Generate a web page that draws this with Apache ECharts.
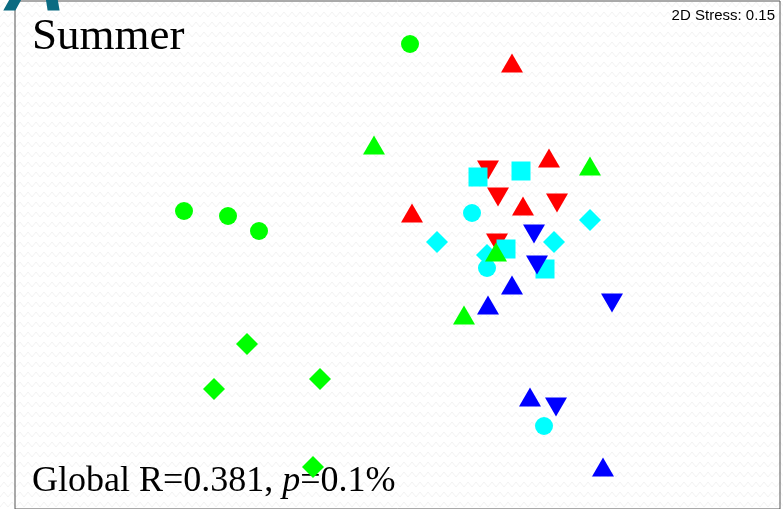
<!DOCTYPE html>
<html>
<head>
<meta charset="utf-8">
<script src="https://cdn.jsdelivr.net/npm/echarts@6/dist/echarts.min.js"></script>
<style>
  html, body { margin: 0; padding: 0; background: #fff; }
  #chart { width: 783px; height: 509px; }
</style>
</head>
<body>
<div id="chart"></div>
<script>
// NMDS ordination, summer samples (x = MDS1, y = MDS2)
const greenCircles   = [[-0.025, 0.985], [-1.155, 0.15], [-0.935, 0.125], [-0.78, 0.05]];
const greenTriangles = [[-0.205, 0.48], [0.875, 0.375], [0.405, -0.055], [0.245, -0.37]];
const greenDiamonds  = [[-0.84, -0.515], [-1.005, -0.74], [-0.475, -0.69], [-0.51, -1.13]];
const redUp          = [[0.485, 0.89], [0.67, 0.415], [-0.015, 0.14], [0.54, 0.175]];
const redDown        = [[0.365, 0.355], [0.415, 0.22], [0.71, 0.19], [0.41, -0.01]];
const cyanCircles    = [[0.285, 0.14], [0.36, -0.135], [0.645, -0.925]];
const cyanSquares    = [[0.315, 0.32], [0.53, 0.35], [0.455, -0.04], [0.65, -0.14]];
const cyanDiamonds   = [[0.11, -0.005], [0.695, -0.005], [0.875, 0.105], [0.36, -0.07]];
const blueDown       = [[0.595, 0.035], [0.61, -0.12], [0.985, -0.31], [0.705, -0.83]];
const blueUp         = [[0.485, -0.22], [0.365, -0.32], [0.575, -0.78], [0.94, -1.13]];

const titleText = 'Summer';
const stressText = '2D Stress: 0.15';
const globalR = '0.381';
const pValue = '0.1%';

// faint zigzag texture for the background
function zigzag() {
  const c = document.createElement('canvas');
  c.width = 8; c.height = 10;
  const g = c.getContext('2d');
  g.fillStyle = '#ffffff';
  g.fillRect(0, 0, 8, 10);
  g.strokeStyle = '#f2f2f2';
  g.lineWidth = 1;
  g.beginPath();
  g.moveTo(0, 7); g.lineTo(4, 2); g.lineTo(8, 7);
  g.stroke();
  return c;
}

const TRI = [22, 19];
function series(data, symbol, color, rotate, size) {
  return {
    type: 'scatter', data: data, symbol: symbol, symbolSize: size,
    symbolRotate: rotate || 0,
    itemStyle: { color: color, opacity: 1 },
    emphasis: { disabled: true }, silent: true, z: 3
  };
}

const chart = echarts.init(document.getElementById('chart'), null, { renderer: 'canvas' });
chart.setOption({
  animation: false,
  backgroundColor: { image: zigzag(), repeat: 'repeat' },
  grid: { left: 15, right: 3, top: 1, bottom: -3, show: true, borderColor: '#555', borderWidth: 1, backgroundColor: 'transparent' },
  xAxis: { type: 'value', min: -2.0, max: 1.825, show: false },
  yAxis: { type: 'value', min: -1.34, max: 1.2, show: false },
  series: [
    series(redUp, 'triangle', '#ff0000', 0, TRI),
    series(redDown, 'triangle', '#ff0000', 180, TRI),
    series(cyanCircles, 'circle', '#00ffff', 0, 18),
    series(cyanSquares, 'rect', '#00ffff', 0, 19),
    series(cyanDiamonds, 'diamond', '#00ffff', 0, 22),
    series(blueDown, 'triangle', '#0000ff', 180, TRI),
    series(blueUp, 'triangle', '#0000ff', 0, TRI),
    series(greenCircles, 'circle', '#00ff00', 0, 18),
    series(greenTriangles, 'triangle', '#00ff00', 0, TRI),
    series(greenDiamonds, 'diamond', '#00ff00', 0, 22)
  ],
  graphic: [
    { type: 'text', x: 5, y: -54, z: 100, silent: true,
      style: { text: 'A', fill: '#0b6b82', fontSize: 84, fontWeight: 'bold', fontStyle: 'italic',
               fontFamily: 'Liberation Sans' } },
    { type: 'text', left: 32, top: 15, z: 10, silent: true,
      style: { text: titleText, fill: '#000', font: '45px "Liberation Serif", serif' } },
    { type: 'text', right: 8, top: 8, z: 10, silent: true,
      style: { text: stressText, fill: '#000', font: '15px "Liberation Sans", Arial, sans-serif' } },
    { type: 'text', left: 32, top: 464, z: 1, silent: true,
      style: {
        text: '{n|Global R=' + globalR + ', }{i|p}{n|=' + pValue + '}',
        rich: {
          n: { font: '36px "Liberation Serif", serif', fill: '#000' },
          i: { font: 'italic 36px "Liberation Serif", serif', fill: '#000' }
        }
      } }
  ]
});
</script>
</body>
</html>
